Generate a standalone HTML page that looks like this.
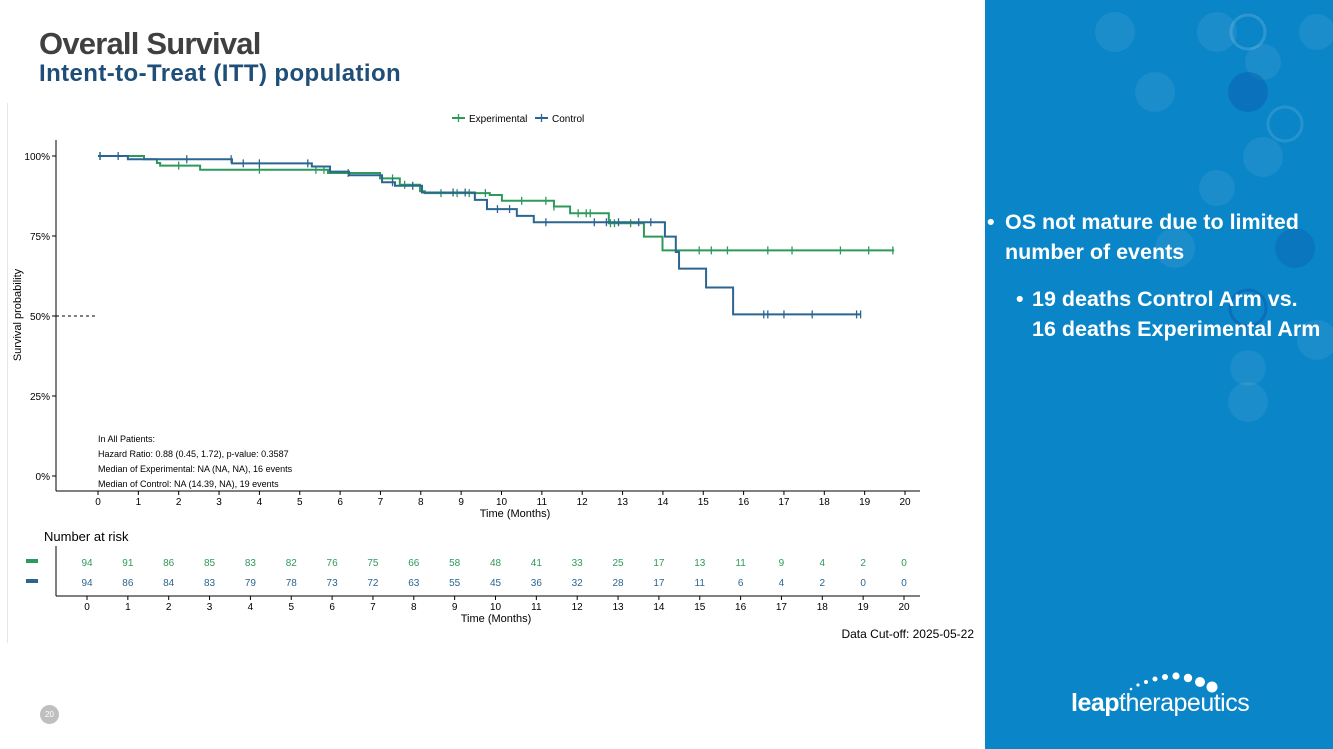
<!DOCTYPE html>
<html><head><meta charset="utf-8"><style>
body{margin:0;width:1333px;height:749px;overflow:hidden;background:#fff;font-family:"Liberation Sans",Arial,sans-serif;position:relative}
.title{position:absolute;left:39px;top:26px;font-size:31px;font-weight:bold;color:#404040;letter-spacing:-0.8px}
.sub{position:absolute;left:39px;top:60px;font-size:24px;font-weight:bold;color:#1f4e79;letter-spacing:0.4px}
.panel{position:absolute;left:985px;top:0;width:348px;height:749px;background:#0a85c8;overflow:hidden}
.pt{position:absolute;color:#fff;font-weight:bold;font-size:21.5px;line-height:30px;white-space:nowrap}
.bul{position:absolute;left:-16px;top:0}
</style></head><body>
<div class="title">Overall Survival</div>
<div class="sub">Intent-to-Treat (ITT) population</div>
<div style="position:absolute;left:7px;top:103px;width:1px;height:540px;background:#e6e6e6"></div>
<svg id="chart" width="985" height="749" style="position:absolute;left:0;top:0" font-family="Liberation Sans, Arial, sans-serif"></svg>
<div style="position:absolute;left:40px;top:705px;width:19px;height:19px;border-radius:50%;background:#bfbfbf;color:#fff;font-size:8px;text-align:center;line-height:19px">20</div>
<div class="panel">
<svg width="348" height="749" style="position:absolute;left:0;top:0">
<g fill="#ffffff" fill-opacity="0.07">
<circle cx="130" cy="32" r="20"/><circle cx="232" cy="32" r="20"/><circle cx="278" cy="62" r="18"/><circle cx="170" cy="92" r="20"/><circle cx="278" cy="157" r="20"/><circle cx="332" cy="32" r="18"/><circle cx="232" cy="188" r="18"/><circle cx="190" cy="248" r="20"/><circle cx="332" cy="340" r="20"/><circle cx="263" cy="402" r="20"/><circle cx="263" cy="368" r="18"/></g>
<circle cx="263" cy="92" r="20" fill="#0a5fb0" fill-opacity="0.5"/>
<circle cx="310" cy="248" r="20" fill="#0a5fb0" fill-opacity="0.4"/>
<circle cx="263" cy="308" r="18" fill="none" stroke="#0a5fb0" stroke-width="3" stroke-opacity="0.6"/>
<circle cx="263" cy="32" r="17" fill="none" stroke="#fff" stroke-opacity="0.15" stroke-width="3"/>
<circle cx="300" cy="124" r="17" fill="none" stroke="#fff" stroke-opacity="0.12" stroke-width="3"/>
<g fill="#fff"><circle cx="139" cy="694" r="1"/><circle cx="146" cy="689" r="1.3"/><circle cx="153" cy="685" r="1.6"/><circle cx="161" cy="682" r="2"/><circle cx="170" cy="679" r="2.5"/><circle cx="180" cy="677" r="3"/><circle cx="191" cy="676" r="3.6"/><circle cx="203" cy="678" r="4.2"/><circle cx="215" cy="682" r="5"/><circle cx="227" cy="687" r="5.5"/></g>
</svg>
<div class="pt" style="left:20px;top:207px"><span class="bul" style="left:-18px">•</span>OS not mature due to limited<br>number of events</div>
<div class="pt" style="left:47px;top:284px"><span class="bul">•</span>19 deaths Control Arm vs.<br>16 deaths Experimental Arm</div>
<div style="position:absolute;left:86px;top:689px;color:#fff;font-size:25px;letter-spacing:-0.5px"><b>leap</b>therapeutics</div>
</div>
<script>
const expTimes=[0,1.14,1.46,1.54,2.53,5.70,6.99,7.48,7.98,8.1,9.71,10.01,11.30,11.70,12.66,13.53,13.99,19.73];
const expSurv=[100,99,97.8,97,95.7,94.7,93,91,89,88.4,87.8,86,84.2,82.1,79,74.8,70.5,70.5];
const ctlTimes=[0,0.74,3.32,5.30,5.75,6.22,7.04,7.36,8.03,9.34,9.64,10.38,10.8,14.05,14.32,14.40,15.07,15.74,18.91];
const ctlSurv=[100,99,97.7,96.7,95.1,94,91.8,90.7,88.6,86.3,83.4,81.3,79.3,74.8,70,64.8,58.9,50.5,50.5];
const expCens=[0.05,2,4,5.4,5.6,6.2,7.3,7.6,8.5,8.9,9.2,9.6,10.5,11.1,11.3,11.9,12.1,12.2,12.7,12.8,13.2,14.9,15.2,15.6,16.6,17.2,18.4,19.1,19.7];
const ctlCens=[0.05,0.5,2.2,3.3,3.6,4,5.2,7.3,7.8,8.8,9.1,9.9,10.2,11.1,12.3,12.6,12.9,13.4,13.7,16.5,16.6,17,17.7,18.8,18.9];
const riskTimes=[0,1,2,3,4,5,6,7,8,9,10,11,12,13,14,15,16,17,18,19,20];
const expRisk=[94,91,86,85,83,82,76,75,66,58,48,41,33,25,17,13,11,9,4,2,0];
const ctlRisk=[94,86,84,83,79,78,73,72,63,55,45,36,32,28,17,11,6,4,2,0,0];
const yTicks=[0,25,50,75,100];
const GREEN='#2e9a5a',BLUE='#2b6591';
const svg=document.getElementById('chart');const NS='http://www.w3.org/2000/svg';
function el(t,a,p){const e=document.createElementNS(NS,t);for(const k in a)e.setAttribute(k,a[k]);(p||svg).appendChild(e);return e;}
const X=t=>98+t*40.35, Y=s=>476-s*3.2, RX=t=>87+t*40.85;
let a=el('line',{x1:56,y1:140,x2:56,y2:491,stroke:'#000'});
a=el('line',{x1:56,y1:491,x2:920,y2:491,stroke:'#000'});
yTicks.forEach(v=>{el('line',{x1:52,y1:Y(v),x2:56,y2:Y(v),stroke:'#000'});const t=el('text',{x:50,y:Y(v)+4,'font-size':10,'text-anchor':'end'});t.textContent=v+'%';});
riskTimes.forEach(v=>{el('line',{x1:X(v),y1:491,x2:X(v),y2:495,stroke:'#000'});const t=el('text',{x:X(v),y:505,'font-size':10,'text-anchor':'middle'});t.textContent=v;});
let t=el('text',{x:515,y:517,'font-size':11,'text-anchor':'middle'});t.textContent='Time (Months)';
t=el('text',{x:21,y:315,'font-size':11,'text-anchor':'middle',transform:'rotate(-90 21 315)'});t.textContent='Survival probability';
el('line',{x1:56,y1:Y(50),x2:98,y2:Y(50),stroke:'#000','stroke-dasharray':'3,3'});
function stepPath(ts,ss){let d='M'+X(ts[0])+','+Y(ss[0]);for(let i=1;i<ts.length;i++){d+=' H'+X(ts[i])+' V'+Y(ss[i]);}return d;}
function survAt(ts,ss,c){let s=ss[0];for(let i=0;i<ts.length;i++)if(ts[i]<=c)s=ss[i];return s;}
[[expTimes,expSurv,expCens,GREEN,'experimental'],[ctlTimes,ctlSurv,ctlCens,BLUE,'control']].forEach(([ts,ss,cs,col,nm])=>{
 const p=el('path',{d:stepPath(ts,ss),fill:'none',stroke:col,'stroke-width':2});
 cs.forEach(c=>{const yy=Y(survAt(ts,ss,c));const m=el('line',{x1:X(c),y1:yy-4,x2:X(c),y2:yy+4,stroke:col,'stroke-width':1.3});});
});
[[452,GREEN,'Experimental','legend-experimental'],[535,BLUE,'Control','legend-control']].forEach(([x,c,l,n])=>{const g=el('g',{});el('line',{x1:x,y1:118,x2:x+13,y2:118,stroke:c,'stroke-width':2},g);el('line',{x1:x+6.5,y1:114,x2:x+6.5,y2:122,stroke:c,'stroke-width':1.3},g);const tt=el('text',{x:x+17,y:122,'font-size':10},g);tt.textContent=l;});
['In All Patients:','Hazard Ratio: 0.88 (0.45, 1.72), p-value: 0.3587','Median of Experimental: NA (NA, NA), 16 events','Median of Control: NA (14.39, NA), 19 events'].forEach((s,i)=>{const tt=el('text',{x:98,y:442+i*15,'font-size':9});tt.textContent=s;});
t=el('text',{x:44,y:541,'font-size':13});t.textContent='Number at risk';
el('line',{x1:56,y1:546,x2:56,y2:596,stroke:'#000'});el('line',{x1:56,y1:596,x2:920,y2:596,stroke:'#000'});
el('rect',{x:26,y:559,width:12,height:4,fill:GREEN});el('rect',{x:26,y:579,width:12,height:4,fill:BLUE});
riskTimes.forEach((v,i)=>{
 let r=el('text',{x:RX(v),y:566,'font-size':10,'text-anchor':'middle',fill:GREEN});r.textContent=expRisk[i];
 r=el('text',{x:RX(v),y:586,'font-size':10,'text-anchor':'middle',fill:BLUE});r.textContent=ctlRisk[i];
 el('line',{x1:RX(v),y1:596,x2:RX(v),y2:600,stroke:'#000'});
 r=el('text',{x:RX(v),y:610,'font-size':10,'text-anchor':'middle'});r.textContent=v;
});
t=el('text',{x:496,y:622,'font-size':11,'text-anchor':'middle'});t.textContent='Time (Months)';
t=el('text',{x:974,y:638,'font-size':12,'text-anchor':'end'});t.textContent='Data Cut-off: 2025-05-22';
</script>
</body></html>
